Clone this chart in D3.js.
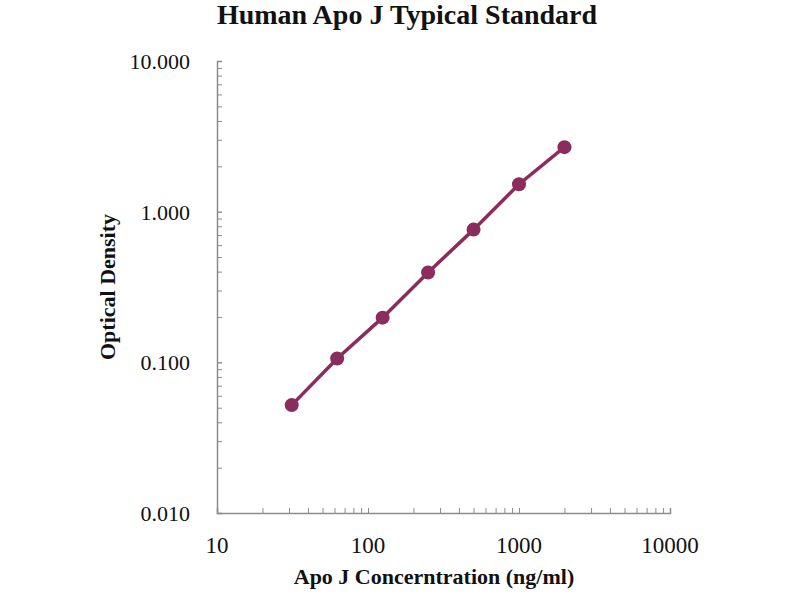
<!DOCTYPE html>
<html><head><meta charset="utf-8">
<script src="https://cdn.jsdelivr.net/npm/d3@7"></script>
<style>body{margin:0;background:#fff}</style>
</head><body>
<svg id="c" width="800" height="600"></svg>
<script>
const concentrations = [31.25, 62.5, 125, 250, 500, 1000, 2000];
const opticalDensity = [0.052, 0.106, 0.198, 0.395, 0.76, 1.52, 2.68];
const xTickValues = [10, 100, 1000, 10000];
const yTickValues = [0.01, 0.1, 1, 10];
const titleText = "Human Apo J Typical Standard";
const xTitle = "Apo J Concerntration (ng/ml)";
const yTitle = "Optical Density";

const svg = d3.select("#c");
const font = "'Liberation Serif','Times New Roman',serif";
const L = 217, R = 670, T = 61, B = 513;
const x = d3.scaleLog().domain([10, 10000]).range([L, R]);
const y = d3.scaleLog().domain([0.01, 10]).range([B, T]);
const axisColor = "#8c8c8c";

// minor ticks
const minorX = [];
for (let d = 10; d < 10000; d *= 10) for (let k = 1; k <= 10; k++) minorX.push(d * k);
const minorY = [];
for (let d = 0.01; d < 9; d *= 10) for (let k = 1; k <= 10; k++) minorY.push(+(d * k).toPrecision(3));

const gx = svg.append("g").attr("transform", `translate(0,${B})`)
  .call(d3.axisBottom(x).tickValues(minorX).tickSize(-5).tickFormat(""));
const gy = svg.append("g").attr("transform", `translate(${L},0)`)
  .call(d3.axisLeft(y).tickValues(minorY).tickSize(-5).tickFormat(""));
[gx, gy].forEach(g => {
  g.select(".domain").attr("stroke", axisColor).attr("stroke-width", 1.5);
  g.selectAll(".tick line").attr("stroke", axisColor).attr("stroke-width", 1);
});

// tick labels
svg.append("g").selectAll("text").data(xTickValues).join("text")
  .attr("x", d => x(d)).attr("y", B + 40).attr("text-anchor", "middle")
  .attr("font-family", font).attr("font-size", 23).attr("fill", "#111")
  .text(d => d);
svg.append("g").selectAll("text").data(yTickValues).join("text")
  .attr("x", 190).attr("y", d => y(d) + 8).attr("text-anchor", "end")
  .attr("font-family", font).attr("font-size", 22).attr("fill", "#111")
  .text(d => d3.format(".3f")(d));

// line + markers
const color = "#8a2c5c";
const pts = concentrations.map((c, i) => [c, opticalDensity[i]]);
svg.append("path").datum(pts)
  .attr("d", d3.line().x(d => x(d[0])).y(d => y(d[1])))
  .attr("fill", "none").attr("stroke", color).attr("stroke-width", 3.5);
svg.append("g").selectAll("circle").data(pts).join("circle")
  .attr("cx", d => x(d[0])).attr("cy", d => y(d[1])).attr("r", 7)
  .attr("fill", color);

// titles
svg.append("text").attr("x", 407).attr("y", 24).attr("text-anchor", "middle")
  .attr("font-family", font).attr("font-weight", "bold").attr("font-size", 28)
  .attr("fill", "#111").text(titleText);
svg.append("text").attr("x", 434).attr("y", 584).attr("text-anchor", "middle")
  .attr("font-family", font).attr("font-weight", "bold").attr("font-size", 22)
  .attr("fill", "#111").text(xTitle);
svg.append("text").attr("transform", "translate(115,287) rotate(-90)")
  .attr("text-anchor", "middle")
  .attr("font-family", font).attr("font-weight", "bold").attr("font-size", 22)
  .attr("fill", "#111").text(yTitle);
</script>
</body></html>
